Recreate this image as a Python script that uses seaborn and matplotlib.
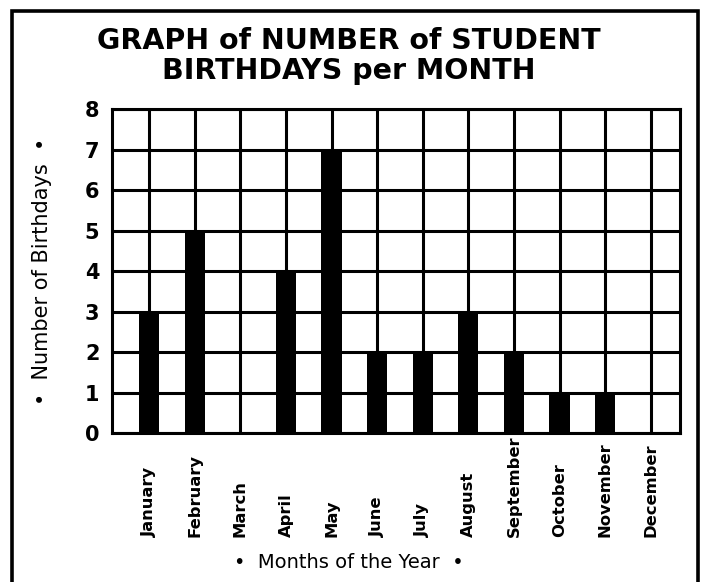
import numpy as np
import pandas as pd
import matplotlib
matplotlib.use("Agg")
import matplotlib.pyplot as plt
import seaborn as sns
from matplotlib.patches import Rectangle

months = ["January", "February", "March", "April", "May", "June",
          "July", "August", "September", "October", "November", "December"]
birthdays = [3, 5, 0, 4, 7, 2, 2, 3, 2, 1, 1, 0]
y_ticks = [0, 1, 2, 3, 4, 5, 6, 7, 8]

df = pd.DataFrame({"Month": months, "Birthdays": birthdays})

sns.set_style("white")
plt.rcParams["font.family"] = ["DejaVu Sans"]
plt.rcParams["text.color"] = "black"
plt.rcParams["xtick.color"] = "black"
plt.rcParams["ytick.color"] = "black"

fig = plt.figure(figsize=(7.02, 5.82), dpi=100)
ax = fig.add_axes([0.1595, 0.256, 0.809, 0.5567])

sns.barplot(x="Month", y="Birthdays", data=df, color="black", width=0.44,
            order=months, ax=ax, zorder=3, edgecolor="black", linewidth=0)

ax.set_xlim(-0.815, 11.64)
ax.set_ylim(0, 8)
ax.set_yticks(y_ticks)
ax.set_xticks(range(len(months)))
ax.set_axisbelow(True)
ax.grid(True, color="black", linewidth=2.2)
for s in ax.spines.values():
    s.set_visible(True)
    s.set_color("black")
    s.set_linewidth(2.2)

ax.tick_params(axis="y", length=0, pad=9, labelsize=15, labelcolor="black")
ax.tick_params(axis="x", length=0, pad=75, labelcolor="black")
ax.set_xticklabels(months, rotation=90, va="bottom", ha="center",
                   fontsize=11.8, fontweight="bold")
for t in ax.get_yticklabels():
    t.set_fontweight("bold")
ax.set_xlabel("")
ax.set_ylabel("")

fig.text(349 / 702, 1 - 56 / 582, "GRAPH of NUMBER of STUDENT\nBIRTHDAYS per MONTH",
         ha="center", va="center", fontsize=20.5, fontweight="bold", linespacing=1.1)
fig.text(349 / 702, 1 - 563 / 582, "\u2022  Months of the Year  \u2022",
         ha="center", va="center", fontsize=14)
fig.text(42 / 702, 1 - 271 / 582, "\u2022  Number of Birthdays  \u2022",
         ha="center", va="center", rotation=90, fontsize=15)

fig.patches.append(Rectangle((12 / 702, -0.05), 686 / 702, 1.05 - 11 / 582,
                             transform=fig.transFigure, fill=False,
                             edgecolor="black", linewidth=2.6))

fig.savefig("out.png", dpi=100)
